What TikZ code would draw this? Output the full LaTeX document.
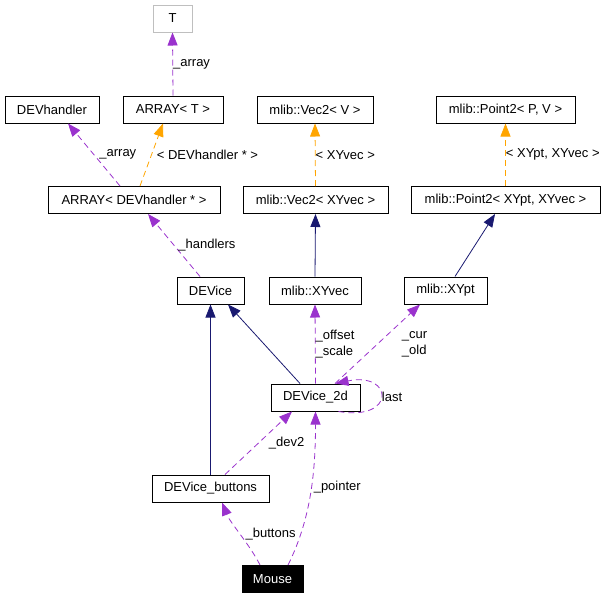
\documentclass[tikz,border=0pt]{standalone}
\usepackage{fontspec}
\setmainfont{Liberation Sans}
\usetikzlibrary{arrows.meta, positioning, calc}
\definecolor{usepurple}{HTML}{9A32CD}
\definecolor{tmplorange}{HTML}{FFA500}
\definecolor{inhnavy}{HTML}{191970}
\definecolor{undocgray}{HTML}{BFBFBF}
\tikzset{
  cls/.style={rectangle, draw=black, line width=1pt, fill=white, inner sep=0pt,
    minimum height=27pt, font=\fontsize{13}{15}\selectfont},
  undoc/.style={cls, draw=undocgray},
  focus/.style={cls, fill=black, text=white},
  uses/.style={-{Triangle[length=13pt, width=10pt]}, usepurple, line width=0.8pt,
    dash pattern=on 6pt off 4pt},
  tmpl/.style={-{Triangle[length=13pt, width=10pt]}, tmplorange, line width=0.8pt,
    dash pattern=on 6pt off 4pt},
  inh/.style={-{Triangle[length=13pt, width=10pt]}, inhnavy, line width=0.8pt},
  lbl/.style={font=\fontsize{13}{16}\selectfont, inner sep=0pt, anchor=west,
    align=left, text=black},
}

\begin{document}
\begin{tikzpicture}[x=1pt, y=-1pt]
  \useasboundingbox (0,0) rectangle (609,597);

  \node[undoc, minimum width=39pt]  (t)     at (172.5,18.5) {T};
  \node[cls, minimum width=94pt]    (dh)    at (52,109.5)   {DEVhandler};
  \node[cls, minimum width=100pt]   (arrt)  at (173,109.5)  {ARRAY< T >};
  \node[cls, minimum width=116pt]   (v2)    at (315,109.5)  {mlib::Vec2< V >};
  \node[cls, minimum width=139pt]   (p2)    at (505.5,109.5) {mlib::Point2< P, V >};
  \node[cls, minimum width=172pt]   (arrdh) at (134,200)    {ARRAY< DEVhandler * >};
  \node[cls, minimum width=145pt]   (v2x)   at (315.5,200)  {mlib::Vec2< XYvec >};
  \node[cls, minimum width=189pt]   (p2x)   at (505.5,200)  {mlib::Point2< XYpt, XYvec >};
  \node[cls, minimum width=67pt]    (dev)   at (210.5,290.5) {DEVice};
  \node[cls, minimum width=92pt]    (xyvec) at (315,290.5)  {mlib::XYvec};
  \node[cls, minimum width=83pt]    (xypt)  at (445.5,290.5) {mlib::XYpt};
  \node[cls, minimum width=89pt]    (d2)    at (315.5,397.5) {DEVice\_2d};
  \node[cls, minimum width=117pt]   (btn)   at (210.5,488.5) {DEVice\_buttons};
  \node[focus, minimum width=61pt]  (mouse) at (272.5,579)  {Mouse};

  \draw[uses] (arrt.north) -- node[lbl] {\_array} (t.south);
  \draw[uses] ([xshift=-14pt]arrdh.north) -- node[lbl, xshift=5pt] {\_array} ([xshift=16pt]dh.south);
  \draw[tmpl] ([xshift=6pt]arrdh.north) -- node[lbl, xshift=5pt] {< DEVhandler * >} ([xshift=-10pt]arrt.south);
  \draw[tmpl] (v2x.north) -- node[lbl] {< XYvec >} (v2.south);
  \draw[tmpl] (p2x.north) -- node[lbl] {< XYpt, XYvec >} (p2.south);
  \draw[uses] ([xshift=-10.5pt]dev.north) -- node[lbl, xshift=4pt] {\_handlers} ([xshift=14pt]arrdh.south);
  \draw[inh] (xyvec.north) -- (v2x.south);
  \draw[inh] ([xshift=9.5pt]xypt.north) -- ([xshift=-10.5pt]p2x.south);
  \draw[inh] (btn.north) -- (dev.south);
  \draw[inh] ([xshift=-15.5pt]d2.north) -- ([xshift=17.5pt]dev.south);
  \draw[uses] (d2.north) -- node[lbl] {\_offset\\\_scale} (xyvec.south);
  \draw[uses] ([xshift=19.5pt]d2.north) -- node[lbl, xshift=24pt] {\_cur\\\_old} ([xshift=-25.5pt]xypt.south);
  \draw[uses] ([xshift=-22pt]d2.south east) .. controls +(58,10) and +(58,-12) ..
    node[lbl, xshift=1pt] {last} ([xshift=-25pt]d2.north east);
  \draw[uses] ([xshift=14.5pt]btn.north) -- node[lbl, xshift=10pt] {\_dev2} ([xshift=-23.5pt]d2.south);
  \draw[uses] ([xshift=15.5pt]mouse.north) .. controls +(23,-46) and +(0,60) ..
    node[lbl, xshift=3pt, yshift=6pt] {\_pointer} (d2.south);
  \draw[uses] ([xshift=-12.5pt]mouse.north) .. controls +(-10,-20) and +(8,20) ..
    node[lbl, xshift=5pt] {\_buttons} ([xshift=11.5pt]btn.south);
\end{tikzpicture}
\end{document}
